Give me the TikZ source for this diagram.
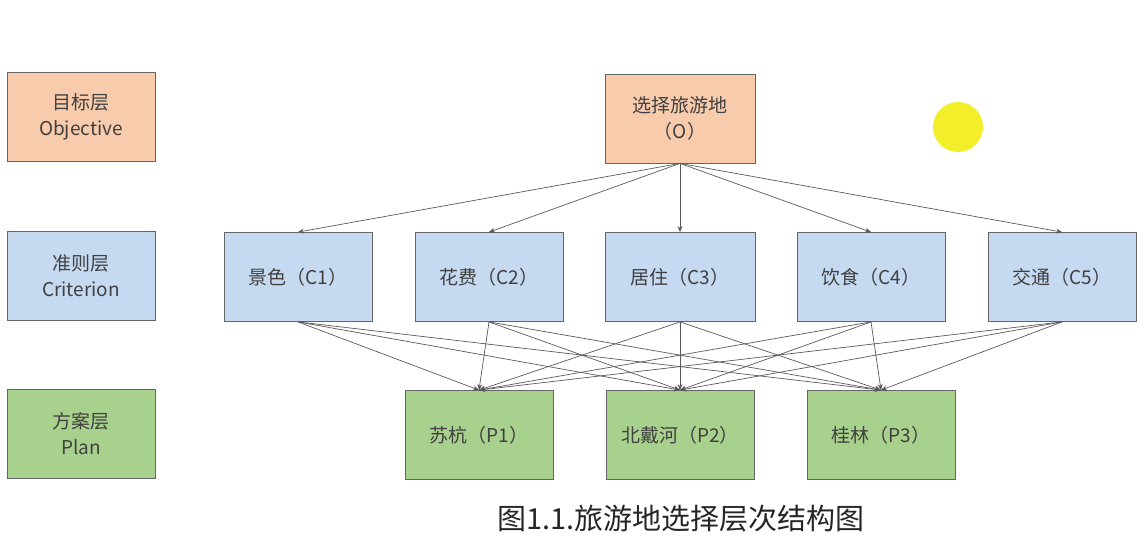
\documentclass[tikz,border=0pt]{standalone}
\usepackage{fontspec}
\setmainfont{Noto Sans CJK SC}
\usetikzlibrary{arrows.meta}
\definecolor{orf}{HTML}{F8CBAD}
\definecolor{blf}{HTML}{C5D9F1}
\definecolor{grf}{HTML}{A9D18E}
\definecolor{txt}{HTML}{404040}
\definecolor{yel}{HTML}{F2EE2A}
\tikzset{
 bx/.style={draw=gray!80!black,line width=0.8pt,minimum width=148pt,minimum height=89pt,align=center,text=txt,font=\fontsize{19}{26}\selectfont,inner sep=0pt},
 ob/.style={bx,fill=orf},
 cb/.style={bx,fill=blf},
 pb/.style={bx,fill=grf},
 ar/.style={-{Stealth[length=6pt,width=5pt]},draw=gray!70!black,line width=0.7pt}
}
\begin{document}
\begin{tikzpicture}[x=1pt,y=-1pt]
\useasboundingbox (0,0) rectangle (1141,543);
\fill[yel] (958,127) circle (25);
\node[ob] (lo) at (81,117) {目标层\\Objective};
\node[cb] (lc) at (81,275.5) {准则层\\Criterion};
\node[pb] (lp) at (81,433.5) {方案层\\Plan};
\node[ob,minimum width=150pt] (o) at (680,118.5) {选择旅游地\\（O）};
\node[cb] (c1) at (298,277) {景色（C1）};
\node[cb] (c2) at (489,277) {花费（C2）};
\node[cb,minimum width=150pt] (c3) at (680,277) {居住（C3）};
\node[cb] (c4) at (871,277) {饮食（C4）};
\node[cb] (c5) at (1062,277) {交通（C5）};
\node[pb] (p1) at (479,435) {苏杭（P1）};
\node[pb] (p2) at (680,435) {北戴河（P2）};
\node[pb] (p3) at (881,435) {桂林（P3）};
\node[font=\fontsize{29}{32}\selectfont,text=black!85] (cap) at (681,519) {图1.1.旅游地选择层次结构图};
\foreach \c in {c1,c2,c3,c4,c5} \draw[ar] (o.south) -- (\c.north);
\foreach \c in {c1,c2,c3,c4,c5} \foreach \p in {p1,p2,p3} \draw[ar] (\c.south) -- (\p.north);
\end{tikzpicture}
\end{document}
